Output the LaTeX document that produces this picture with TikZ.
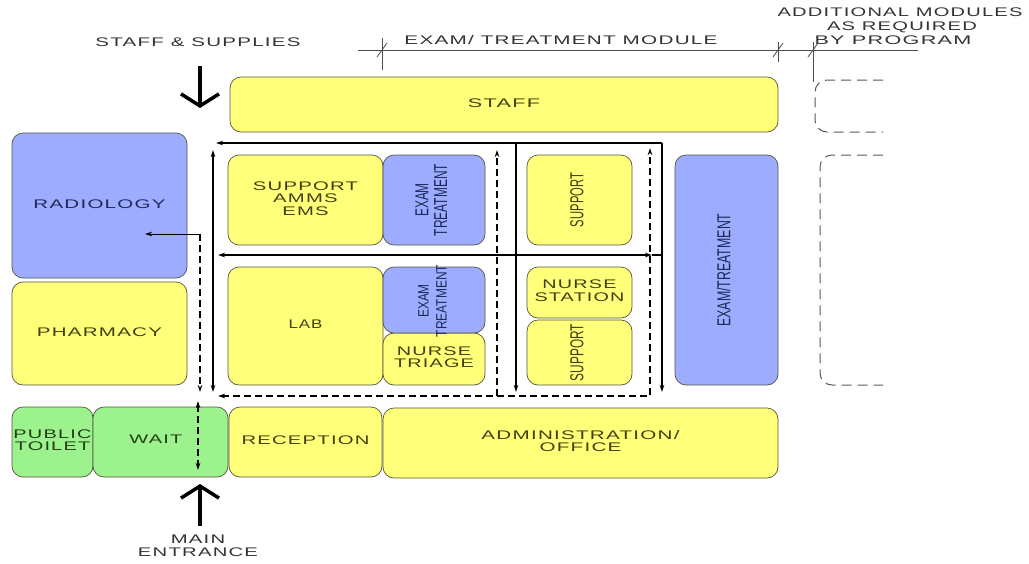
\documentclass[tikz,border=0pt]{standalone}
\usepackage{fontspec}
\newfontfamily\lbl[LetterSpace=6]{Liberation Sans}
\newfontfamily\lblr{Liberation Sans}
\usetikzlibrary{arrows.meta}
\definecolor{yelF}{HTML}{FFFF7A}
\definecolor{bluF}{HTML}{9DACFF}
\definecolor{grnF}{HTML}{9CF28C}
\definecolor{edgeC}{HTML}{55553F}
\definecolor{yelT}{HTML}{404012}
\definecolor{bluT}{HTML}{1E2A58}
\definecolor{grnT}{HTML}{243E16}
\definecolor{labT}{HTML}{333333}
\newcommand\TW[2]{\resizebox{#1pt}{\height}{\begin{tabular}{@{}c@{}}#2\end{tabular}}}
\newcommand\RT[2]{\rotatebox{90}{\scalebox{1}[1.5]{\resizebox{#1pt}{\height}{\lblr\begin{tabular}{@{}c@{}}#2\end{tabular}}}}}
\begin{document}
\begin{tikzpicture}[x=1pt,y=-1pt,
  box/.style={draw=edgeC, line width=0.7pt, rounded corners=11pt, inner sep=0pt,
    font=\lbl\fontsize{12.5}{12.5}\selectfont},
  yel/.style={box, fill=yelF, text=yelT},
  blu/.style={box, fill=bluF, text=bluT},
  grn/.style={box, fill=grnF, text=grnT},
  lab/.style={inner sep=0pt, text=labT, font=\lbl\fontsize{12.5}{13}\selectfont},
  corr/.style={line width=1.3pt, black},
  dsh/.style={corr, dash pattern=on 7pt off 4pt},
  arr/.style={-{Stealth[length=7pt,width=4.5pt]}},
  barr/.style={{Stealth[length=7pt,width=4.5pt]}-{Stealth[length=7pt,width=4.5pt]}},
  bigarr/.style={line width=3.5pt, black, -{Straight Barb[length=12pt,width=38pt]}},
  dimln/.style={line width=0.8pt, black!70},
  ghost/.style={line width=1pt, black!65, dash pattern=on 10pt off 6pt, rounded corners=12pt}
]
\path[use as bounding box, fill=white] (0,0) rectangle (1029,563);

% header labels
\node[lab] (staffsup) at (198,44) {\TW{205}{STAFF \& SUPPLIES}};
\node[lab] (module) at (561,42) {\TW{313}{EXAM/ TREATMENT MODULE}};
\node[lab] (add1) at (900,14) {\TW{245}{ADDITIONAL MODULES}};
\node[lab] (add2) at (902,28) {\TW{150}{AS REQUIRED}};
\node[lab] (add3) at (893,42) {\TW{157}{BY PROGRAM}};
\node[lab] (mainent) at (198,547) {\TW{120}{MAIN\\ENTRANCE}};

% dimension line
\coordinate (dA) at (358,50);
\coordinate (dB) at (918,50);
\draw[dimln] (dA) -- (dB);
\coordinate (t1a) at (382,38); \coordinate (t1b) at (382,70);
\coordinate (t2a) at (778,42); \coordinate (t2b) at (778,62);
\coordinate (t3a) at (813,42); \coordinate (t3b) at (813,82);
\draw[dimln] (t1a) -- (t1b);
\draw[dimln] (t2a) -- (t2b);
\draw[dimln] (t3a) -- (t3b);
\foreach \x in {382,778,813}{\draw[dimln] (\x-5,57) -- (\x+5,43);}

% boxes
\node[yel, minimum width=548pt, minimum height=55pt] (staff) at (504,104.5) {\TW{72}{STAFF}};
\node[blu, minimum width=175pt, minimum height=145pt] (radio) at (99.5,205.5) {\TW{132}{RADIOLOGY}};
\node[yel, minimum width=175pt, minimum height=103pt] (pharm) at (99.5,333.5) {\TW{125}{PHARMACY}};
\node[yel, minimum width=155pt, minimum height=90pt] (supamms) at (305.5,200) {\TW{105}{SUPPORT\\AMMS\\EMS}};
\node[blu, minimum width=102pt, minimum height=90pt] (ex1) at (434,200) {\RT{72}{EXAM\\TREATMENT}};
\node[yel, minimum width=105pt, minimum height=90pt] (sup2) at (579.5,200) {\RT{54}{SUPPORT}};
\node[blu, minimum width=103pt, minimum height=230pt] (exr) at (726.5,270) {\RT{113}{EXAM/TREATMENT}};
\node[yel, minimum width=155pt, minimum height=118pt] (lab) at (305.5,326) {\TW{34}{LAB}};
\node[yel, minimum width=102pt, minimum height=52pt] (triage) at (434,359) {\TW{80}{NURSE\\TRIAGE}};
\node[blu, minimum width=102pt, minimum height=66pt] (ex2) at (434,300) {};
\node[text=bluT] (ex2t) at (434,301) {\RT{72}{EXAM\\TREATMENT}};
\node[yel, minimum width=105pt, minimum height=51pt] (nstat) at (579.5,292.5) {\TW{90}{NURSE\\STATION}};
\node[yel, minimum width=105pt, minimum height=65pt] (sup3) at (579.5,352.5) {\RT{57}{SUPPORT}};
\node[grn, minimum width=81pt, minimum height=70pt] (toilet) at (52.5,442) {\TW{78}{PUBLIC\\TOILET}};
\node[grn, minimum width=135pt, minimum height=70pt] (wait) at (160.5,442) {};
\node[text=grnT, inner sep=0pt, font=\lbl\fontsize{12.5}{12.5}\selectfont] (waitt) at (156,441) {\TW{53}{WAIT}};
\node[yel, minimum width=153pt, minimum height=70pt] (recep) at (305.5,442) {\TW{128}{RECEPTION}};
\node[yel, minimum width=395pt, minimum height=70pt] (admin) at (580.5,443) {\TW{198}{ADMINISTRATION/\\OFFICE}};

% additional module outlines
\coordinate (g1a) at (883,80); \coordinate (g1b) at (815,80);
\coordinate (g1c) at (815,132); \coordinate (g1d) at (883,132);
\draw[ghost] (g1a) -- (g1b) -- (g1c) -- (g1d);
\coordinate (g2a) at (883,155); \coordinate (g2b) at (820,155);
\coordinate (g2c) at (820,385); \coordinate (g2d) at (883,385);
\draw[ghost] (g2a) -- (g2b) -- (g2c) -- (g2d);

% corridor arrows
\coordinate (tL) at (216,143); \coordinate (tR) at (662,143);
\coordinate (tM) at (516,143);
\coordinate (bR) at (662,392); \coordinate (bM) at (516,392);
\draw[corr, arr] (tR) -- (tL);
\draw[corr, arr] (tR) -- (bR);
\draw[corr, arr] (tM) -- (bM);
\coordinate (mL) at (218,255); \coordinate (mR) at (652,255); \coordinate (mE) at (662,255);
\draw[corr] (mR) -- (mE);
\draw[corr, barr] (mL) -- (mR);
\coordinate (vT) at (213,150); \coordinate (vB) at (213,392);
\draw[corr, barr] (vT) -- (vB);
\coordinate (dL) at (218,396); \coordinate (dC) at (650,396); \coordinate (dT) at (650,148);
\draw[dsh, barr] (dL) -- (dC) -- (dT);
\coordinate (d2B) at (497,396); \coordinate (d2T) at (497,150);
\draw[dsh, arr] (d2B) -- (d2T);
\coordinate (rJ) at (200,234); \coordinate (rE) at (145,234); \coordinate (rB) at (200,392);
\draw[line width=0.9pt, arr] (rJ) -- (rE);
\draw[dsh, arr] (rJ) -- (rB);
\coordinate (wT) at (198,401); \coordinate (wB) at (198,470);
\draw[dsh, barr] (wT) -- (wB);

% entry arrows
\coordinate (sA) at (200,66); \coordinate (sB) at (200,108);
\draw[bigarr] (sA) -- (sB);
\coordinate (eA) at (200,526); \coordinate (eB) at (200,484);
\draw[bigarr] (eA) -- (eB);
\end{tikzpicture}
\end{document}
